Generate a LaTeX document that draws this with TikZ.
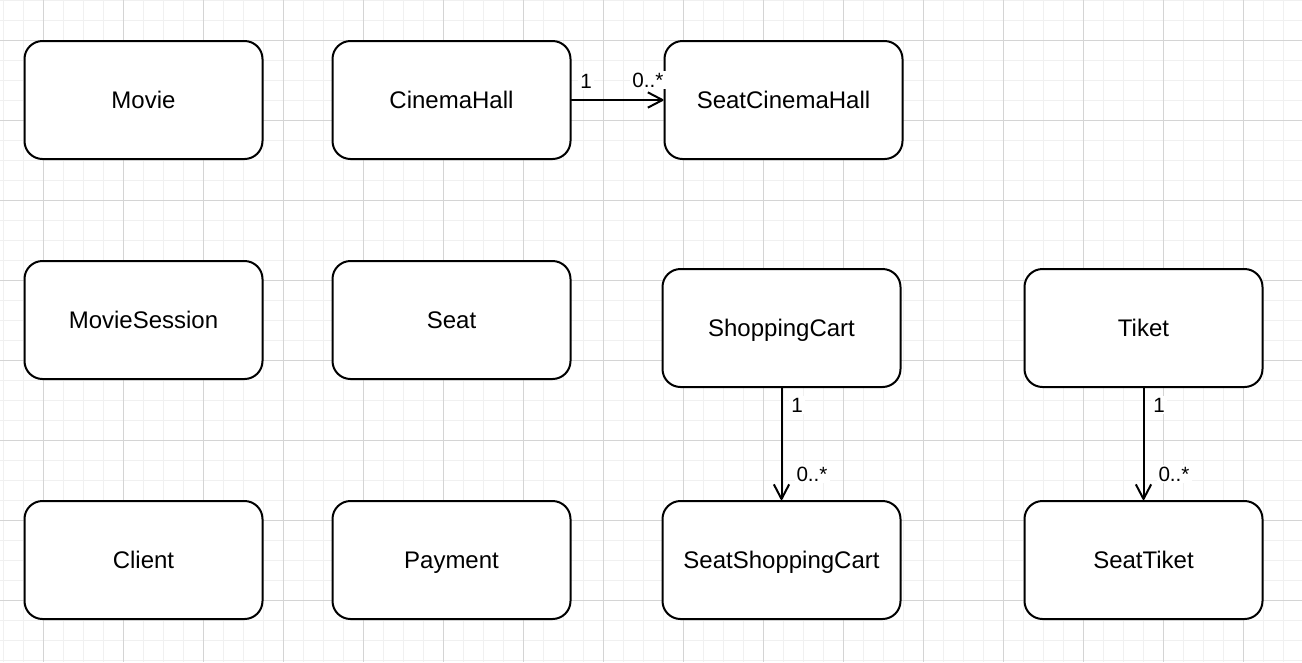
\documentclass[tikz,border=0pt]{standalone}
\usepackage{fontspec}
\setmainfont{Liberation Sans}
\usetikzlibrary{arrows.meta}
\definecolor{gridminor}{HTML}{F0F0F0}
\definecolor{gridmajor}{HTML}{D4D4D4}
\tikzset{
  entity/.style={draw=black, line width=1.5pt, fill=white, rounded corners=13.5pt,
    minimum width=178.5pt, minimum height=88.5pt, inner sep=0pt,
    text height=12.6pt, text depth=0pt,
    font=\fontsize{18pt}{21pt}\selectfont},
  mult/.style={fill=white, inner sep=1.5pt, font=\fontsize{15.5pt}{18pt}\selectfont},
  assoc/.style={draw=black, line width=1.5pt, line cap=round,
    -{Straight Barb[length=11pt,width=11.5pt,line join=round]}},
  minorline/.style={draw=gridminor, line width=0.75pt},
  majorline/.style={draw=gridmajor, line width=0.75pt}
}
\begin{document}
\begin{tikzpicture}[x=0.75pt,y=-0.75pt]
\useasboundingbox (0,0) rectangle (1302,662);
\fill[white] (0,0) rectangle (1302,662);
% grid
\foreach \x in {3,23,...,1303} \draw[minorline] (\x,0) -- (\x,662);
\foreach \y in {0,20,...,660} \draw[minorline] (0,\y) -- (1302,\y);
\foreach \x in {43,123,...,1283} \draw[majorline] (\x,0) -- (\x,662);
\foreach \y in {40,120,...,600} \draw[majorline] (0,\y) -- (1302,\y);
% entities
\node[entity] (movie) at (143.5,100) {Movie};
\node[entity] (hall) at (451.5,100) {CinemaHall};
\node[entity] (seathall) at (783.5,100) {SeatCinemaHall};
\node[entity] (session) at (143.5,320) {MovieSession};
\node[entity] (seat) at (451.5,320) {Seat};
\node[entity] (cart) at (781.5,328) {ShoppingCart};
\node[entity] (tiket) at (1143.5,328) {Tiket};
\node[entity] (client) at (143.5,560) {Client};
\node[entity] (payment) at (451.5,560) {Payment};
\node[entity] (seatcart) at (781.5,560) {SeatShoppingCart};
\node[entity] (seattiket) at (1143.5,560) {SeatTiket};
% associations
\draw[assoc] (hall.east) -- (seathall.west);
\draw[assoc] (cart.south) -- (seatcart.north);
\draw[assoc] (tiket.south) -- (seattiket.north);
% multiplicities
\node[mult] (m1) at (586,81) {1};
\node[mult] (m2) at (648,80) {0..*};
\node[mult] (m3) at (797,405) {1};
\node[mult] (m4) at (812,474) {0..*};
\node[mult] (m5) at (1159,405) {1};
\node[mult] (m6) at (1174,474) {0..*};
\end{tikzpicture}
\end{document}
